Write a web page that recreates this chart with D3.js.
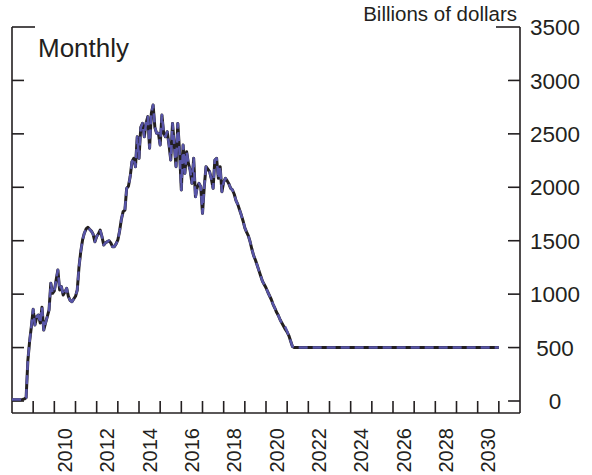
<!DOCTYPE html>
<html>
<head>
<meta charset="utf-8">
<script src="https://cdn.jsdelivr.net/npm/d3@7"></script>
<style>
  html, body { margin: 0; padding: 0; background: #fff; }
  svg { display: block; }
  text { font-family: "Liberation Sans", Arial, Helvetica, sans-serif; fill: #231f20; }
</style>
</head>
<body>
<svg id="chart" width="592" height="475"></svg>
<script>
// ---- data (monthly, starting Jan 2008) ----
const startYear = 2008;
const seriesBlack = [
  12,12,12,12,12,12,15,20,30,380,560,700,
  858,711,790,805,730,877,664,730,789,852,1101,1008,
  1030,1130,1226,1039,1070,992,1020,1055,976,940,929,955,
  980,1039,1257,1400,1507,1570,1610,1625,1607,1590,1560,1491,
  1540,1563,1600,1538,1460,1480,1491,1500,1480,1444,1444,1470,
  1507,1590,1700,1772,1787,1990,2010,2100,2239,2271,2193,2473,
  2271,2560,2598,2473,2600,2661,2365,2692,2770,2560,2505,2505,
  2396,2676,2505,2473,2520,2400,2255,2598,2400,2193,2598,2333,
  1975,2396,2131,2333,2224,2160,2037,2271,1912,2000,2037,2006,
  1756,2006,2193,2170,2146,2080,1990,2255,2271,2084,2193,1959,
  2050,2084,2060,2030,1990,1975,1935,1875,1840,1790,1740,1685,
  1620,1580,1545,1490,1420,1360,1320,1270,1220,1170,1120,1090,
  1060,1020,985,950,905,870,830,800,760,730,700,670,
  645,610,560,510,500,500,500,500,500,500,500,500,
  500,500,500,500,500,500,500,500,500,500,500,500,
  500,500,500,500,500,500,500,500,500,500,500,500,
  500,500,500,500,500,500,500,500,500,500,500,500,
  500,500,500,500,500,500,500,500,500,500,500,500,
  500,500,500,500,500,500,500,500,500,500,500,500,
  500,500,500,500,500,500,500,500,500,500,500,500,
  500,500,500,500,500,500,500,500,500,500,500,500,
  500,500,500,500,500,500,500,500,500,500,500,500,
  500,500,500,500,500,500,500,500,500,500,500,500,
  500
];
const seriesBlue = [
  14,14,14,14,14,14,16,22,32,380,560,700,
  858,711,790,805,730,877,664,730,789,852,1101,1008,
  1030,1130,1226,1039,1070,992,1020,1055,976,940,929,955,
  980,1039,1257,1400,1507,1570,1610,1625,1607,1590,1560,1491,
  1540,1563,1600,1538,1460,1480,1491,1500,1480,1444,1444,1470,
  1507,1590,1700,1772,1787,1990,2010,2100,2239,2271,2193,2473,
  2271,2560,2598,2473,2600,2661,2365,2692,2770,2560,2505,2505,
  2396,2676,2505,2473,2520,2400,2255,2598,2400,2193,2598,2333,
  1975,2396,2131,2333,2224,2160,2037,2271,1890,2000,2037,2006,
  1756,2006,2193,2170,2146,2080,1990,2255,2271,2084,2193,1959,
  2050,2084,2060,2030,1990,1975,1935,1875,1840,1790,1740,1685,
  1620,1580,1545,1490,1420,1360,1320,1270,1220,1170,1120,1090,
  1060,1020,985,950,905,870,830,800,760,730,705,690,
  650,610,560,510,500,500,500,500,500,500,500,500,
  500,500,500,500,500,500,500,500,500,500,500,500,
  500,500,500,500,500,500,500,500,500,500,500,500,
  500,500,500,500,500,500,500,500,500,500,500,500,
  500,500,500,500,500,500,500,500,500,500,500,500,
  500,500,500,500,500,500,500,500,500,500,500,500,
  500,500,500,500,500,500,500,500,500,500,500,500,
  500,500,500,500,500,500,500,500,500,500,500,500,
  500,500,500,500,500,500,500,500,500,500,500,500,
  500,500,500,500,500,500,500,500,500,500,500,500,
  500
];
const yTicks = [0, 500, 1000, 1500, 2000, 2500, 3000, 3500];
const yearTicks = d3.range(2009, 2032);
const yearLabels = [2010, 2012, 2014, 2016, 2018, 2020, 2022, 2024, 2026, 2028, 2030];
const titleText = "Monthly";
const unitText = "Billions of dollars";

// ---- layout ----
const ink = "#231f20";
const svg = d3.select("#chart");
const x = d3.scaleLinear().domain([2008, 2032]).range([12, 520]);
const y = d3.scaleLinear().domain([0, 3500]).range([401, 27]);
const yBottom = 413;

const toPts = arr => arr.map((v, i) => ({ t: startYear + i / 12, v }));
const line = d3.line().x(d => x(d.t)).y(d => y(d.v));

// frame (left, right, bottom)
const frame = svg.append("g").attr("stroke", ink).attr("stroke-width", 1.6).attr("fill", "none");
frame.append("line").attr("x1", x.range()[0]).attr("x2", x.range()[0]).attr("y1", y(3500)).attr("y2", yBottom);
frame.append("line").attr("x1", x.range()[1]).attr("x2", x.range()[1]).attr("y1", y(3500)).attr("y2", yBottom);
frame.append("line").attr("x1", x.range()[0]).attr("x2", x.range()[1]).attr("y1", yBottom).attr("y2", yBottom);

// y ticks both sides
frame.selectAll(".lt").data(yTicks).join("line")
  .attr("x1", x.range()[0]).attr("x2", d => x.range()[0] + (d === 3500 ? 23 : 12))
  .attr("y1", d => y(d)).attr("y2", d => y(d));
frame.selectAll(".rt").data(yTicks).join("line")
  .attr("x1", d => x.range()[1] - (d === 3500 ? 24 : 12)).attr("x2", x.range()[1])
  .attr("y1", d => y(d)).attr("y2", d => y(d));
// x ticks
frame.selectAll(".xt").data(yearTicks).join("line")
  .attr("x1", d => x(d)).attr("x2", d => x(d))
  .attr("y1", yBottom).attr("y2", yBottom - 12);

// y labels (right)
svg.append("g").selectAll("text").data(yTicks).join("text")
  .attr("x", 555).attr("y", d => y(d)).attr("dy", "0.36em")
  .attr("text-anchor", "middle").attr("font-size", 22.5)
  .text(d => d);

// x labels rotated
svg.append("g").selectAll("text").data(yearLabels).join("text")
  .attr("transform", d => `translate(${x(d + 0.5)},428) rotate(-90)`)
  .attr("dy", "0.36em").attr("text-anchor", "end").attr("font-size", 20)
  .text(d => d);

// title & units
svg.append("text").attr("x", 38).attr("y", 57).attr("font-size", 26).text(titleText);
svg.append("text").attr("x", 517).attr("y", 21).attr("text-anchor", "end").attr("font-size", 20.5).text(unitText);

// lines
svg.append("path").datum(toPts(seriesBlack))
  .attr("d", line).attr("fill", "none").attr("stroke", ink)
  .attr("stroke-width", 3).attr("stroke-linejoin", "round");
svg.append("path").datum(toPts(seriesBlue))
  .attr("d", line).attr("fill", "none").attr("stroke", "#5855a8")
  .attr("stroke-width", 2.5).attr("stroke-dasharray", "9,5").attr("stroke-linejoin", "round");
</script>
</body>
</html>
